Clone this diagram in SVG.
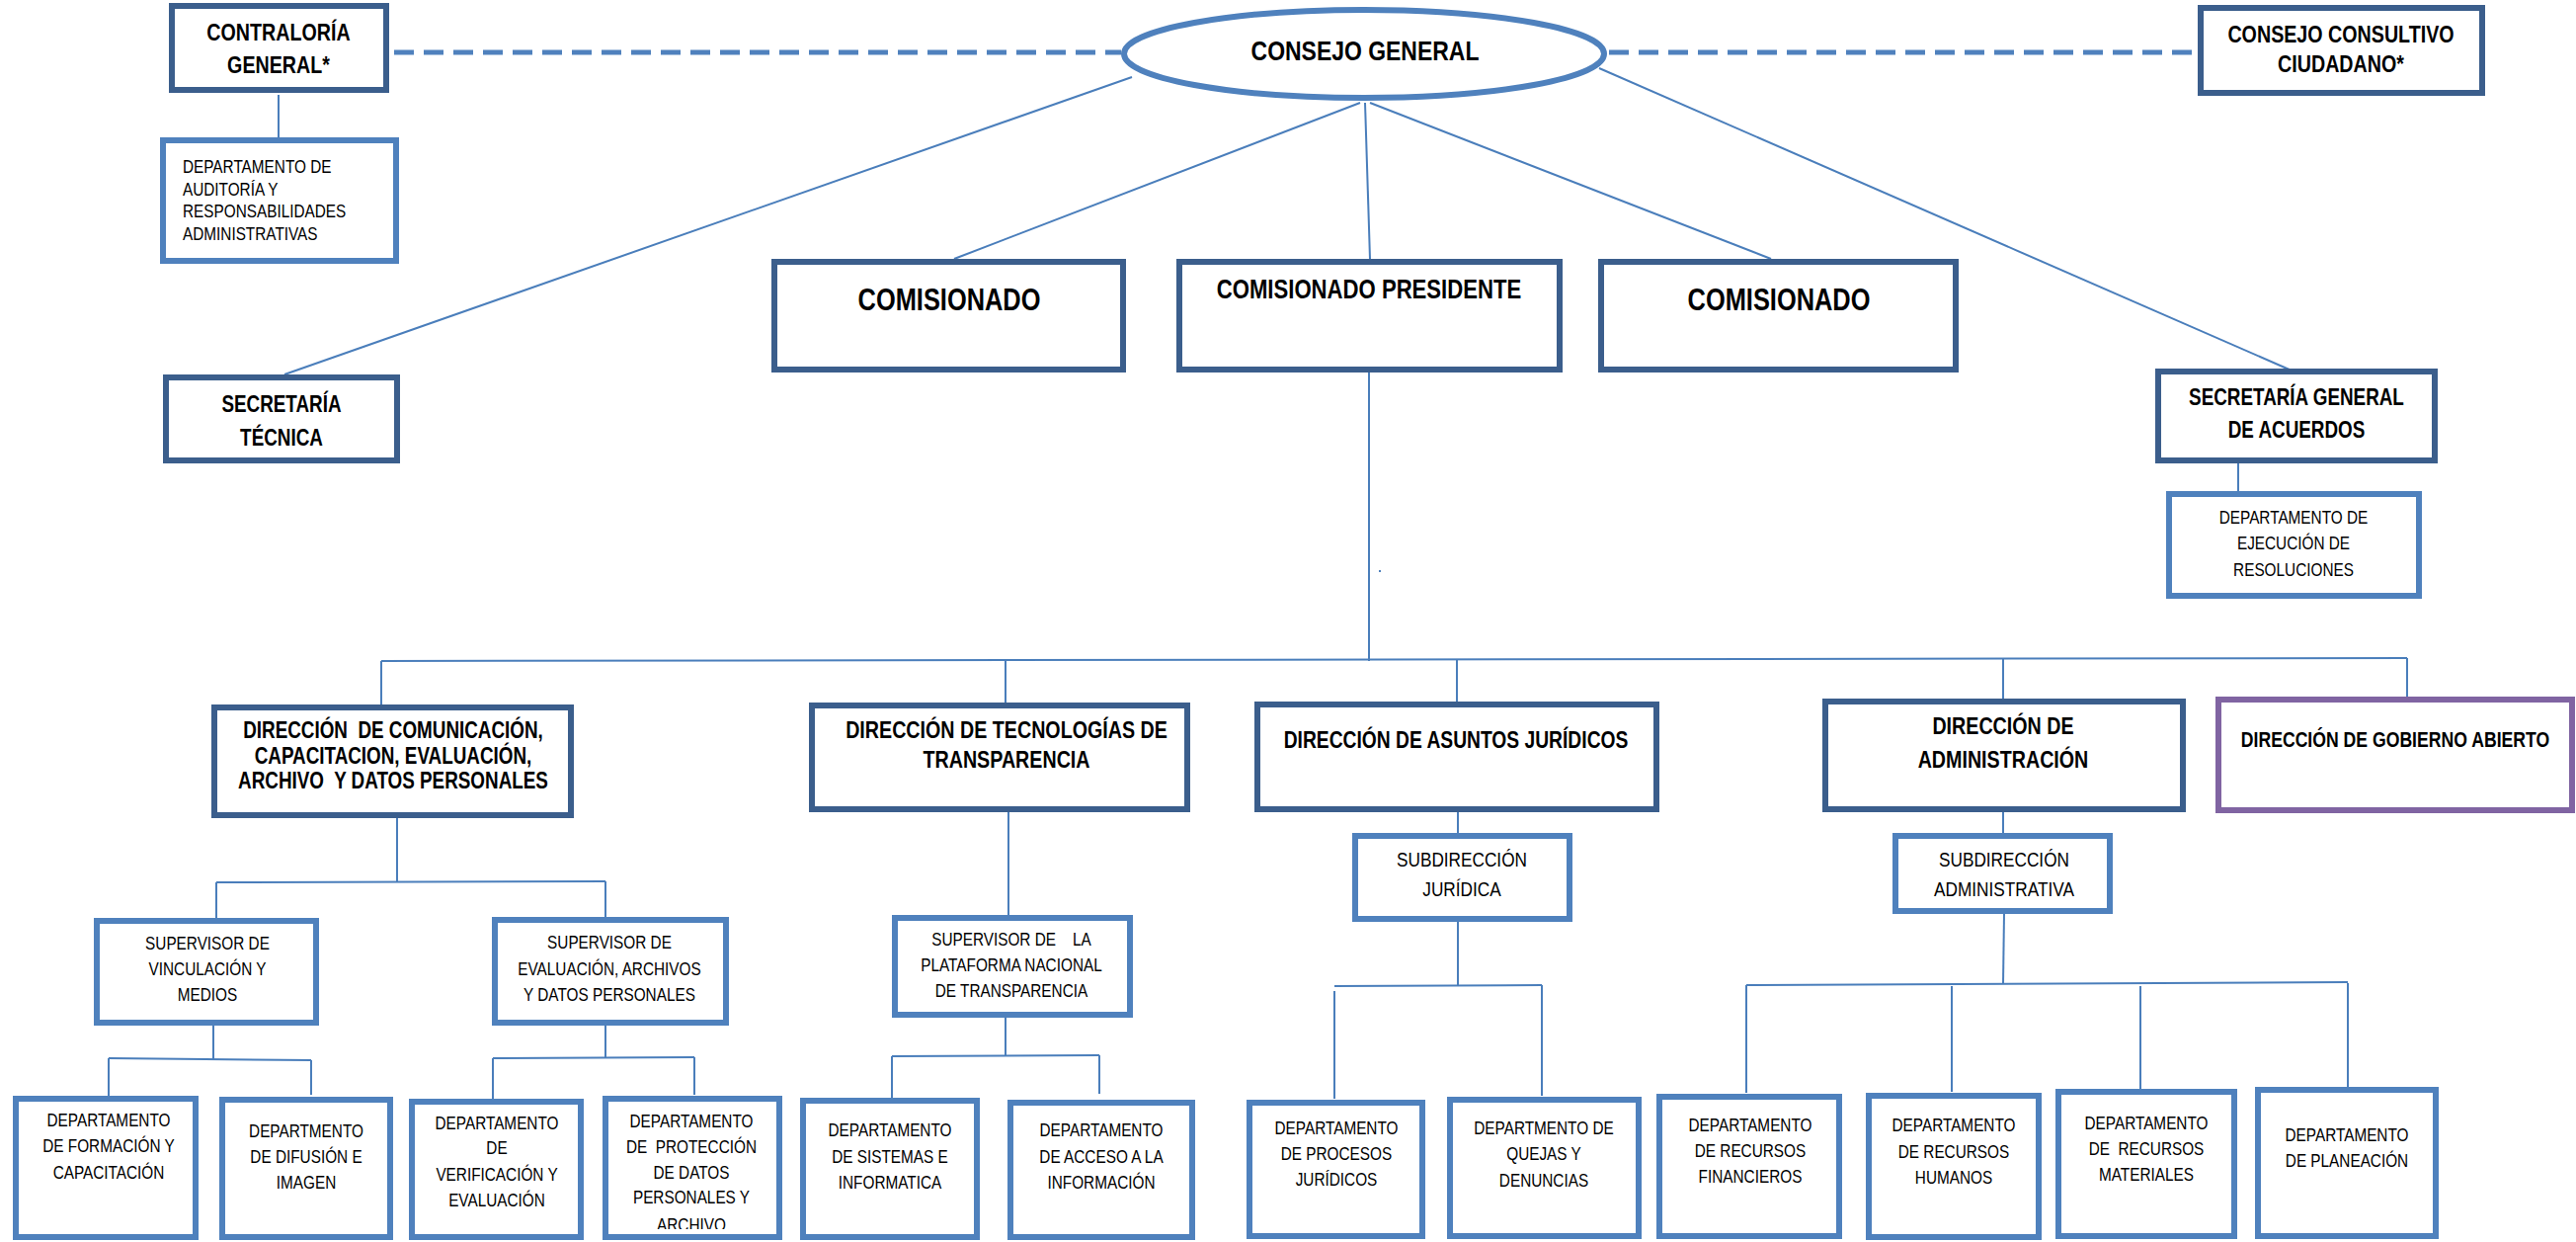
<svg xmlns="http://www.w3.org/2000/svg" width="2608" height="1257" viewBox="0 0 2608 1257">
<style>
.dk{fill:#fff;stroke:#3B5E8C;stroke-width:6}
.lt{fill:#fff;stroke:#4F81BD;stroke-width:6}
.pu{fill:#fff;stroke:#8064A2;stroke-width:6}
.ln{stroke:#4A7EBB;stroke-width:2;fill:none}
.ds{stroke:#4F81BD;stroke-width:5;stroke-dasharray:20 10;fill:none}
text{font-family:"Liberation Sans",Arial,sans-serif;fill:#000;text-anchor:middle}
.b{font-weight:bold}
.s{font-size:18.7px}
.m{font-size:21px}
</style>
<defs>
<clipPath id="clipProt"><rect x="613" y="1112" width="176" height="132"/></clipPath>
</defs>
<rect width="2608" height="1257" fill="#fff"/>

<g id="connectors">
<line class="ds" x1="399" y1="53" x2="1135" y2="53"/>
<line class="ds" x1="1629" y1="53" x2="2227" y2="53"/>
<line class="ln" x1="282" y1="96" x2="282" y2="142"/>
<line class="ln" x1="1146" y1="78" x2="288" y2="379"/>
<line class="ln" x1="1377" y1="104" x2="966" y2="262"/>
<line class="ln" x1="1382" y1="104" x2="1387" y2="262"/>
<line class="ln" x1="1387" y1="104" x2="1793" y2="262"/>
<line class="ln" x1="1619" y1="69" x2="2320" y2="375"/>
<line class="ln" x1="2266" y1="469" x2="2266" y2="497"/>
<line class="ln" x1="1386" y1="377" x2="1386" y2="669"/>
<line class="ln" x1="386" y1="669" x2="2437" y2="666"/>
<line class="ln" x1="386" y1="669" x2="386" y2="713"/>
<line class="ln" x1="1018" y1="669" x2="1018" y2="711"/>
<line class="ln" x1="1475" y1="667" x2="1475" y2="710"/>
<line class="ln" x1="2028" y1="667" x2="2028" y2="707"/>
<line class="ln" x1="2437" y1="666" x2="2437" y2="705"/>
<line class="ln" x1="402" y1="828" x2="402" y2="893"/>
<line class="ln" x1="219" y1="893" x2="613" y2="892"/>
<line class="ln" x1="219" y1="893" x2="219" y2="930"/>
<line class="ln" x1="613" y1="892" x2="613" y2="928"/>
<line class="ln" x1="216" y1="1038" x2="216" y2="1072"/>
<line class="ln" x1="110" y1="1071" x2="315" y2="1073"/>
<line class="ln" x1="110" y1="1071" x2="110" y2="1109"/>
<line class="ln" x1="315" y1="1073" x2="315" y2="1108"/>
<line class="ln" x1="613" y1="1038" x2="613" y2="1071"/>
<line class="ln" x1="499" y1="1071" x2="703" y2="1070"/>
<line class="ln" x1="499" y1="1071" x2="499" y2="1112"/>
<line class="ln" x1="703" y1="1070" x2="703" y2="1108"/>
<line class="ln" x1="1021" y1="822" x2="1021" y2="926"/>
<line class="ln" x1="1018" y1="1030" x2="1018" y2="1069"/>
<line class="ln" x1="903" y1="1069" x2="1113" y2="1068"/>
<line class="ln" x1="903" y1="1069" x2="903" y2="1111"/>
<line class="ln" x1="1113" y1="1068" x2="1113" y2="1107"/>
<line class="ln" x1="1476" y1="822" x2="1476" y2="843"/>
<line class="ln" x1="1476" y1="933" x2="1476" y2="998"/>
<line class="ln" x1="1351" y1="998" x2="1561" y2="997"/>
<line class="ln" x1="1351" y1="1003" x2="1351" y2="1112"/>
<line class="ln" x1="1561" y1="997" x2="1561" y2="1109"/>
<line class="ln" x1="2028" y1="822" x2="2028" y2="843"/>
<line class="ln" x1="2029" y1="925" x2="2028" y2="996"/>
<line class="ln" x1="1768" y1="997" x2="2377" y2="994"/>
<line class="ln" x1="1768" y1="997" x2="1768" y2="1106"/>
<line class="ln" x1="1976" y1="998" x2="1976" y2="1105"/>
<line class="ln" x1="2167" y1="998" x2="2167" y2="1102"/>
<line class="ln" x1="2377" y1="995" x2="2377" y2="1100"/>
<rect x="1396" y="577" width="2" height="2" fill="#4F81BD"/>
</g>

<g id="contraloria">
<rect class="dk" x="174" y="6" width="217" height="85"/>
<g transform="matrix(0.82 0 0 1 50.76 0)">
<text class="b" font-size="24" x="282" y="41">CONTRALORÍA</text>
<text class="b" font-size="24" x="282" y="74">GENERAL*</text>
</g>
</g>
<g id="dep-auditoria">
<rect class="lt" x="165" y="142" width="236" height="122"/>
<g transform="matrix(0.82 0 0 1 33.3 0)">
<text class="s" style="text-anchor:start" x="185" y="175">DEPARTAMENTO DE</text>
<text class="s" style="text-anchor:start" x="185" y="198">AUDITORÍA Y</text>
<text class="s" style="text-anchor:start" x="185" y="220">RESPONSABILIDADES</text>
<text class="s" style="text-anchor:start" x="185" y="243">ADMINISTRATIVAS</text>
</g>
</g>
<g id="consejo-general">
<ellipse cx="1381" cy="54.5" rx="243" ry="44.5" fill="#fff" stroke="#4F81BD" stroke-width="6"/>
<g transform="matrix(0.82 0 0 1 248.76 0)">
<text class="b" font-size="28" x="1382" y="61">CONSEJO GENERAL</text>
</g>
</g>
<g id="consejo-consultivo">
<rect class="dk" x="2228" y="8" width="285" height="86"/>
<g transform="matrix(0.82 0 0 1 426.6 0)">
<text class="b" font-size="24" x="2370" y="43">CONSEJO CONSULTIVO</text>
<text class="b" font-size="24" x="2370" y="73">CIUDADANO*</text>
</g>
</g>
<g id="comisionado-1">
<rect class="dk" x="784" y="265" width="353" height="109"/>
<g transform="matrix(0.82 0 0 1 172.98 0)">
<text class="b" font-size="31" x="961" y="314">COMISIONADO</text>
</g>
</g>
<g id="comisionado-presidente">
<rect class="dk" x="1194" y="265" width="385" height="109"/>
<g transform="matrix(0.82 0 0 1 249.48 0)">
<text class="b" font-size="27" x="1386" y="302">COMISIONADO PRESIDENTE</text>
</g>
</g>
<g id="comisionado-2">
<rect class="dk" x="1621" y="265" width="359" height="109"/>
<g transform="matrix(0.82 0 0 1 324.18 0)">
<text class="b" font-size="31" x="1801" y="314">COMISIONADO</text>
</g>
</g>
<g id="secretaria-tecnica">
<rect class="dk" x="168" y="382" width="234" height="84"/>
<g transform="matrix(0.82 0 0 1 51.3 0)">
<text class="b" font-size="23" x="285" y="417">SECRETARÍA</text>
<text class="b" font-size="23" x="285" y="451">TÉCNICA</text>
</g>
</g>
<g id="secretaria-general">
<rect class="dk" x="2185" y="376" width="280" height="90"/>
<g transform="matrix(0.82 0 0 1 418.5 0)">
<text class="b" font-size="23" x="2325" y="410">SECRETARÍA GENERAL</text>
<text class="b" font-size="23" x="2325" y="443">DE ACUERDOS</text>
</g>
</g>
<g id="dep-ejecucion">
<rect class="lt" x="2196" y="500" width="253" height="103"/>
<g transform="matrix(0.82 0 0 1 417.96 0)">
<text class="s" x="2322" y="530">DEPARTAMENTO DE</text>
<text class="s" x="2322" y="556">EJECUCIÓN DE</text>
<text class="s" x="2322" y="583">RESOLUCIONES</text>
</g>
</g>
<g id="dir-comunicacion">
<rect class="dk" x="217" y="716" width="361" height="109"/>
<g transform="matrix(0.82 0 0 1 71.64 0)">
<text class="b" font-size="23" x="398" y="747" xml:space="preserve">DIRECCIÓN  DE COMUNICACIÓN,</text>
<text class="b" font-size="23" x="398" y="773">CAPACITACION, EVALUACIÓN,</text>
<text class="b" font-size="23" x="398" y="798" xml:space="preserve">ARCHIVO  Y DATOS PERSONALES</text>
</g>
</g>
<g id="dir-tecnologias">
<rect class="dk" x="822" y="714" width="380" height="105"/>
<g transform="matrix(0.82 0 0 1 183.42 0)">
<text class="b" font-size="24" x="1019" y="747">DIRECCIÓN DE TECNOLOGÍAS DE</text>
<text class="b" font-size="24" x="1019" y="777">TRANSPARENCIA</text>
</g>
</g>
<g id="dir-juridicos">
<rect class="dk" x="1273" y="713" width="404" height="106"/>
<g transform="matrix(0.82 0 0 1 265.32 0)">
<text class="b" font-size="23.5" x="1474" y="757">DIRECCIÓN DE ASUNTOS JURÍDICOS</text>
</g>
</g>
<g id="dir-administracion">
<rect class="dk" x="1848" y="710" width="362" height="109"/>
<g transform="matrix(0.82 0 0 1 365.04 0)">
<text class="b" font-size="24" x="2028" y="743">DIRECCIÓN DE</text>
<text class="b" font-size="24" x="2028" y="777">ADMINISTRACIÓN</text>
</g>
</g>
<g id="dir-gobierno-abierto">
<rect class="pu" x="2246" y="708" width="358" height="112"/>
<g transform="matrix(0.82 0 0 1 436.5 0)">
<text class="b" font-size="21.5" x="2425" y="756">DIRECCIÓN DE GOBIERNO ABIERTO</text>
</g>
</g>
<g id="subdir-juridica">
<rect class="lt" x="1372" y="846" width="217" height="84"/>
<g transform="matrix(0.82 0 0 1 266.4 0)">
<text class="m" x="1480" y="877">SUBDIRECCIÓN</text>
<text class="m" x="1480" y="907">JURÍDICA</text>
</g>
</g>
<g id="subdir-administrativa">
<rect class="lt" x="1919" y="846" width="217" height="76"/>
<g transform="matrix(0.82 0 0 1 365.22 0)">
<text class="m" x="2029" y="877">SUBDIRECCIÓN</text>
<text class="m" x="2029" y="907">ADMINISTRATIVA</text>
</g>
</g>
<g id="sup-vinculacion">
<rect class="lt" x="98" y="932" width="222" height="103"/>
<g transform="matrix(0.82 0 0 1 37.8 0)">
<text class="s" x="210" y="961">SUPERVISOR DE</text>
<text class="s" x="210" y="987">VINCULACIÓN Y</text>
<text class="s" x="210" y="1013">MEDIOS</text>
</g>
</g>
<g id="sup-evaluacion">
<rect class="lt" x="501" y="931" width="234" height="104"/>
<g transform="matrix(0.82 0 0 1 111.06 0)">
<text class="s" x="617" y="960">SUPERVISOR DE</text>
<text class="s" x="617" y="987">EVALUACIÓN, ARCHIVOS</text>
<text class="s" x="617" y="1013">Y DATOS PERSONALES</text>
</g>
</g>
<g id="sup-plataforma">
<rect class="lt" x="906" y="929" width="238" height="98"/>
<g transform="matrix(0.82 0 0 1 184.32 0)">
<text class="s" x="1024" y="957" xml:space="preserve">SUPERVISOR DE    LA</text>
<text class="s" x="1024" y="983">PLATAFORMA NACIONAL</text>
<text class="s" x="1024" y="1009">DE TRANSPARENCIA</text>
</g>
</g>
<g id="dep-formacion">
<rect class="lt" x="16" y="1112" width="182" height="140"/>
<g transform="matrix(0.82 0 0 1 19.8 0)">
<text class="s" x="110" y="1140">DEPARTAMENTO</text>
<text class="s" x="110" y="1166">DE FORMACIÓN Y</text>
<text class="s" x="110" y="1193">CAPACITACIÓN</text>
</g>
</g>
<g id="dep-difusion">
<rect class="lt" x="225" y="1113" width="170" height="139"/>
<g transform="matrix(0.82 0 0 1 55.8 0)">
<text class="s" x="310" y="1151">DEPARTMENTO</text>
<text class="s" x="310" y="1177">DE DIFUSIÓN E</text>
<text class="s" x="310" y="1203">IMAGEN</text>
</g>
</g>
<g id="dep-verificacion">
<rect class="lt" x="417" y="1115" width="171" height="137"/>
<g transform="matrix(0.82 0 0 1 90.54 0)">
<text class="s" x="503" y="1143">DEPARTAMENTO</text>
<text class="s" x="503" y="1168">DE</text>
<text class="s" x="503" y="1195">VERIFICACIÓN Y</text>
<text class="s" x="503" y="1221">EVALUACIÓN</text>
</g>
</g>
<g id="dep-proteccion">
<rect class="lt" x="613" y="1112" width="176" height="140"/>
<g clip-path="url(#clipProt)">
<g transform="matrix(0.82 0 0 1 126 0)">
<text class="s" x="700" y="1141">DEPARTAMENTO</text>
<text class="s" x="700" y="1167" xml:space="preserve">DE  PROTECCIÓN</text>
<text class="s" x="700" y="1193">DE DATOS</text>
<text class="s" x="700" y="1218">PERSONALES Y</text>
<text class="s" x="700" y="1246">ARCHIVO</text>
</g>
</g>
</g>
<g id="dep-sistemas">
<rect class="lt" x="813" y="1114" width="176" height="138"/>
<g transform="matrix(0.82 0 0 1 162.18 0)">
<text class="s" x="901" y="1150">DEPARTAMENTO</text>
<text class="s" x="901" y="1177">DE SISTEMAS E</text>
<text class="s" x="901" y="1203">INFORMATICA</text>
</g>
</g>
<g id="dep-acceso">
<rect class="lt" x="1023" y="1116" width="184" height="136"/>
<g transform="matrix(0.82 0 0 1 200.7 0)">
<text class="s" x="1115" y="1150">DEPARTAMENTO</text>
<text class="s" x="1115" y="1177">DE ACCESO A LA</text>
<text class="s" x="1115" y="1203">INFORMACIÓN</text>
</g>
</g>
<g id="dep-procesos">
<rect class="lt" x="1265" y="1116" width="175" height="135"/>
<g transform="matrix(0.82 0 0 1 243.54 0)">
<text class="s" x="1353" y="1148">DEPARTAMENTO</text>
<text class="s" x="1353" y="1174">DE PROCESOS</text>
<text class="s" x="1353" y="1200">JURÍDICOS</text>
</g>
</g>
<g id="dep-quejas">
<rect class="lt" x="1468" y="1113" width="191" height="138"/>
<g transform="matrix(0.82 0 0 1 281.34 0)">
<text class="s" x="1563" y="1148">DEPARTMENTO DE</text>
<text class="s" x="1563" y="1174">QUEJAS Y</text>
<text class="s" x="1563" y="1201">DENUNCIAS</text>
</g>
</g>
<g id="dep-financieros">
<rect class="lt" x="1680" y="1110" width="182" height="141"/>
<g transform="matrix(0.82 0 0 1 318.96 0)">
<text class="s" x="1772" y="1145">DEPARTAMENTO</text>
<text class="s" x="1772" y="1171">DE RECURSOS</text>
<text class="s" x="1772" y="1197">FINANCIEROS</text>
</g>
</g>
<g id="dep-humanos">
<rect class="lt" x="1892" y="1109" width="172" height="143"/>
<g transform="matrix(0.82 0 0 1 356.04 0)">
<text class="s" x="1978" y="1145">DEPARTAMENTO</text>
<text class="s" x="1978" y="1172">DE RECURSOS</text>
<text class="s" x="1978" y="1198">HUMANOS</text>
</g>
</g>
<g id="dep-materiales">
<rect class="lt" x="2084" y="1105" width="178" height="146"/>
<g transform="matrix(0.82 0 0 1 391.14 0)">
<text class="s" x="2173" y="1143">DEPARTAMENTO</text>
<text class="s" x="2173" y="1169" xml:space="preserve">DE  RECURSOS</text>
<text class="s" x="2173" y="1195">MATERIALES</text>
</g>
</g>
<g id="dep-planeacion">
<rect class="lt" x="2286" y="1103" width="180" height="148"/>
<g transform="matrix(0.82 0 0 1 427.68 0)">
<text class="s" x="2376" y="1155">DEPARTAMENTO</text>
<text class="s" x="2376" y="1181">DE PLANEACIÓN</text>
</g>
</g>
</svg>
